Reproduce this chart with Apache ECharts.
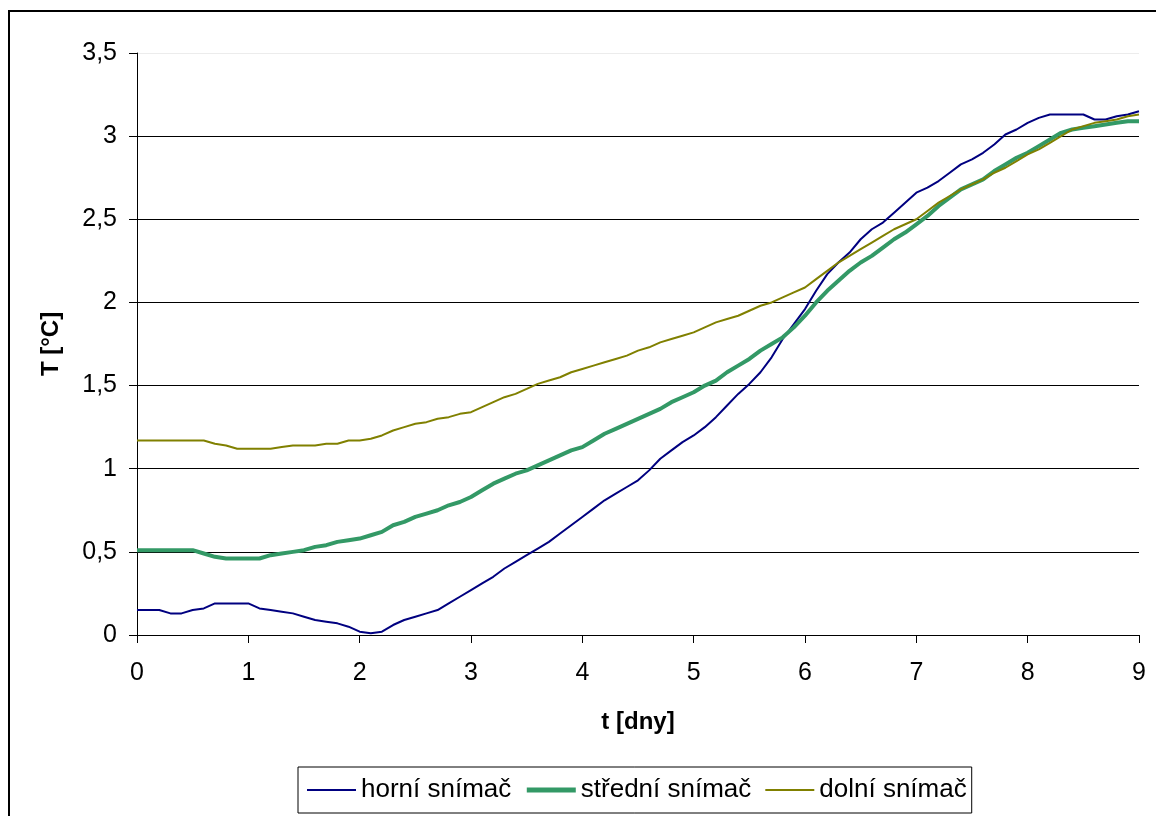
<!DOCTYPE html>
<html>
<head>
<meta charset="utf-8">
<script src="https://cdn.jsdelivr.net/npm/echarts@6/dist/echarts.min.js"></script>
<style>
html,body{margin:0;padding:0;background:#fff;}
#chart{width:1156px;height:816px;}
</style>
</head>
<body>
<div id="chart"></div>
<script>
// time in days
var days = [0.0,0.1,0.2,0.3,0.4,0.5,0.6,0.7,0.8,0.9,
  1.0,1.1,1.2,1.3,1.4,1.5,1.6,1.7,1.8,1.9,
  2.0,2.1,2.2,2.3,2.4,2.5,2.6,2.7,2.8,2.9,
  3.0,3.1,3.2,3.3,3.4,3.5,3.6,3.7,3.8,3.9,
  4.0,4.1,4.2,4.3,4.4,4.5,4.6,4.7,4.8,4.9,
  5.0,5.1,5.2,5.3,5.4,5.5,5.6,5.7,5.8,5.9,
  6.0,6.1,6.2,6.3,6.4,6.5,6.6,6.7,6.8,6.9,
  7.0,7.1,7.2,7.3,7.4,7.5,7.6,7.7,7.8,7.9,
  8.0,8.1,8.2,8.3,8.4,8.5,8.6,8.7,8.8,8.9,9.0];

var horni = [0.15,0.15,0.15,0.13,0.13,0.15,0.16,0.19,0.19,0.19,
  0.19,0.16,0.15,0.14,0.13,0.11,0.09,0.08,0.07,0.05,
  0.02,0.01,0.02,0.06,0.09,0.11,0.13,0.15,0.19,0.23,
  0.27,0.31,0.35,0.40,0.44,0.48,0.52,0.56,0.61,0.66,
  0.71,0.76,0.81,0.85,0.89,0.93,0.99,1.06,1.11,1.16,
  1.20,1.25,1.31,1.38,1.45,1.51,1.58,1.67,1.78,1.87,
  1.96,2.07,2.17,2.24,2.30,2.38,2.44,2.48,2.54,2.60,
  2.66,2.69,2.73,2.78,2.83,2.86,2.90,2.95,3.01,3.04,
  3.08,3.11,3.13,3.13,3.13,3.13,3.10,3.10,3.12,3.13,3.15];

var stredni = [0.51,0.51,0.51,0.51,0.51,0.51,0.49,0.47,0.46,0.46,
  0.46,0.46,0.48,0.49,0.50,0.51,0.53,0.54,0.56,0.57,
  0.58,0.60,0.62,0.66,0.68,0.71,0.73,0.75,0.78,0.80,
  0.83,0.87,0.91,0.94,0.97,0.99,1.02,1.05,1.08,1.11,
  1.13,1.17,1.21,1.24,1.27,1.30,1.33,1.36,1.40,1.43,
  1.46,1.50,1.53,1.58,1.62,1.66,1.71,1.75,1.79,1.85,
  1.92,2.00,2.07,2.13,2.19,2.24,2.28,2.33,2.38,2.42,
  2.47,2.52,2.58,2.63,2.68,2.71,2.74,2.79,2.83,2.87,
  2.90,2.94,2.98,3.02,3.04,3.05,3.06,3.07,3.08,3.09,3.09];

var dolni = [1.17,1.17,1.17,1.17,1.17,1.17,1.17,1.15,1.14,1.12,
  1.12,1.12,1.12,1.13,1.14,1.14,1.14,1.15,1.15,1.17,
  1.17,1.18,1.20,1.23,1.25,1.27,1.28,1.30,1.31,1.33,
  1.34,1.37,1.40,1.43,1.45,1.48,1.51,1.53,1.55,1.58,
  1.60,1.62,1.64,1.66,1.68,1.71,1.73,1.76,1.78,1.80,
  1.82,1.85,1.88,1.90,1.92,1.95,1.98,2.00,2.03,2.06,
  2.09,2.14,2.19,2.24,2.28,2.32,2.36,2.40,2.44,2.47,
  2.50,2.55,2.60,2.64,2.68,2.71,2.74,2.78,2.81,2.85,
  2.89,2.92,2.96,3.00,3.04,3.06,3.08,3.09,3.10,3.12,3.13];

var seriesNames = ['horní snímač', 'střední snímač', 'dolní snímač'];

function pairs(vals) {
  return days.map(function (t, i) { return [t, vals[i]]; });
}

var chart = echarts.init(document.getElementById('chart'), null, {renderer: 'canvas'});
var font = 'Liberation Sans, Arial, sans-serif';
chart.setOption({
  animation: false,
  backgroundColor: '#ffffff',
  textStyle: {fontFamily: font},
  graphic: [{
    type: 'rect',
    shape: {x: 9, y: 11, width: 1300, height: 1000},
    style: {fill: 'none', stroke: '#000', lineWidth: 2},
    silent: true
  }],
  grid: {left: 137, right: 17, top: 53, bottom: 181},
  xAxis: {
    type: 'value', min: 0, max: 9, interval: 1,
    name: 't [dny]', nameLocation: 'middle', nameGap: 75,
    nameTextStyle: {fontSize: 24, fontWeight: 'bold', color: '#000', fontFamily: font},
    axisLine: {show: true, onZero: false, lineStyle: {color: '#000', width: 1}},
    axisTick: {show: true, length: 8, lineStyle: {color: '#000'}},
    axisLabel: {fontSize: 25, color: '#000', margin: 26, fontFamily: font},
    splitLine: {show: false}
  },
  yAxis: {
    type: 'value', min: 0, max: 3.5, interval: 0.5,
    name: 'T [°C]', nameLocation: 'middle', nameGap: 74, nameRotate: 90,
    nameTextStyle: {fontSize: 24, fontWeight: 'bold', color: '#000', fontFamily: font},
    axisLine: {show: true, lineStyle: {color: '#000', width: 1}},
    axisTick: {show: true, length: 8, lineStyle: {color: '#000'}},
    axisLabel: {fontSize: 25, color: '#000', margin: 20, fontFamily: font,
      formatter: function (v) { return String(v).replace('.', ','); }},
    splitLine: {show: true, lineStyle: {color: ['#000','#000','#000','#000','#000','#000','#000','#ececec'], width: 1}}
  },
  legend: {
    left: 298, top: 767,
    orient: 'horizontal',
    borderColor: '#000', borderWidth: 1,
    padding: [10, 5, 10, 8],
    itemWidth: 49, itemHeight: 14, itemGap: 13,
    itemStyle: {opacity: 0},
    textStyle: {fontSize: 26, color: '#000', fontFamily: font},
    data: [
      {name: seriesNames[0], lineStyle: {width: 2}},
      {name: seriesNames[1], lineStyle: {width: 5}},
      {name: seriesNames[2], lineStyle: {width: 2}}
    ]
  },
  series: [
    {name: seriesNames[0], type: 'line', data: pairs(horni), showSymbol: false, symbol: 'none',
      lineStyle: {color: '#000080', width: 2}, itemStyle: {color: '#000080'}},
    {name: seriesNames[1], type: 'line', data: pairs(stredni), showSymbol: false, symbol: 'none',
      lineStyle: {color: '#339966', width: 4}, itemStyle: {color: '#339966'}},
    {name: seriesNames[2], type: 'line', data: pairs(dolni), showSymbol: false, symbol: 'none',
      lineStyle: {color: '#808000', width: 2}, itemStyle: {color: '#808000'}}
  ]
});
</script>
</body>
</html>
